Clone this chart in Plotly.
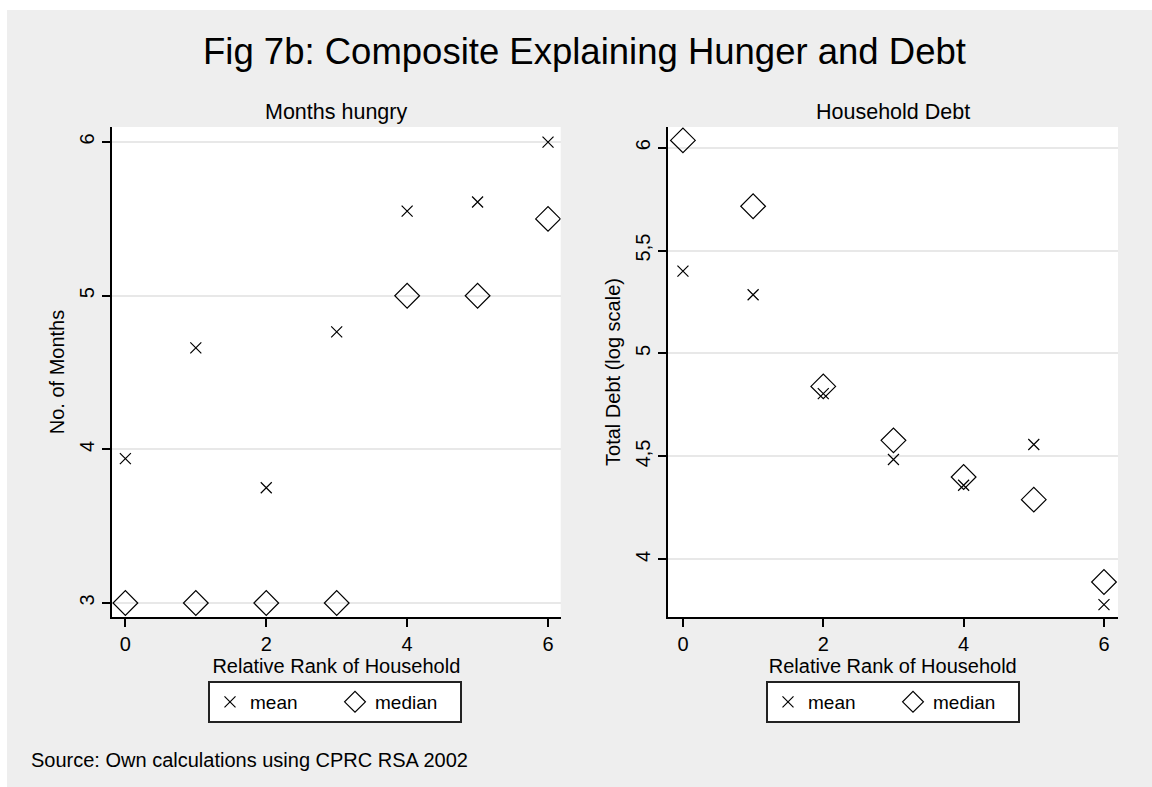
import plotly.graph_objects as go

# Relative rank of household (x values shared by both panels)
rank = [0, 1, 2, 3, 4, 5, 6]

# Months hungry
hunger_mean = [3.94, 4.66, 3.75, 4.765, 5.55, 5.61, 6.0]
hunger_median = [3, 3, 3, 3, 5, 5, 5.5]

# Household debt (log scale)
debt_mean = [5.40, 5.285, 4.805, 4.485, 4.36, 4.558, 3.78]
debt_median = [6.035, 5.715, 4.84, 4.578, 4.40, 4.29, 3.89]

x_ticks = [0, 2, 4, 6]
hunger_ticks = [3, 4, 5, 6]
debt_ticks = [4, 4.5, 5, 5.5, 6]
debt_ticktext = ["4", "4,5", "5", "5,5", "6"]

FONT = "Liberation Sans, Arial, sans-serif"
BG = "#EEEEEE"

W, H = 1152, 787
ML, MR, MT, MB = 112, 34, 127, 170
PW, PH = W - ML - MR, H - MT - MB


def px_x(px):
    return (px - ML) / PW


def px_y(py):
    return (H - MB - py) / PH


fig = go.Figure()

mean_marker = dict(symbol="x-thin-open", size=11, color="black",
                   line=dict(color="black", width=1.2))
median_marker = dict(symbol="diamond-open", size=19, color="black",
                     line=dict(color="black", width=1.2))

fig.add_trace(go.Scatter(x=rank, y=hunger_mean, mode="markers", name="mean",
                         marker=mean_marker, xaxis="x", yaxis="y",
                         legend="legend"))
fig.add_trace(go.Scatter(x=rank, y=hunger_median, mode="markers", name="median",
                         marker=median_marker, xaxis="x", yaxis="y",
                         legend="legend"))
fig.add_trace(go.Scatter(x=rank, y=debt_mean, mode="markers", name="mean",
                         marker=mean_marker, xaxis="x2", yaxis="y2",
                         legend="legend2"))
fig.add_trace(go.Scatter(x=rank, y=debt_median, mode="markers", name="median",
                         marker=median_marker, xaxis="x2", yaxis="y2",
                         legend="legend2"))

axis_common = dict(
    showline=True, linecolor="black", linewidth=2,
    ticks="outside", ticklen=8, tickwidth=1.5, tickcolor="black",
    tickfont=dict(family=FONT, size=20, color="black"),
    zeroline=False, mirror=False,
)

xaxis_common = dict(axis_common, showgrid=False, tickvals=x_ticks,
                    title=dict(text="Relative Rank of Household", standoff=0,
                               font=dict(family=FONT, size=20, color="black")))

yaxis_common = dict(axis_common, showgrid=True, gridcolor="#E8E8E8",
                    gridwidth=2, tickangle=-90)

left_dom = [0, px_x(560.7)]
right_dom = [px_x(667.5), 1]

legend_common = dict(
    orientation="h", bgcolor="white", bordercolor="#222222", borderwidth=2,
    font=dict(family=FONT, size=19, color="black"),
    xanchor="center", yanchor="top", y=px_y(681), entrywidth=80,
    itemsizing="trace",
)

fig.update_layout(
    width=W, height=H,
    margin=dict(l=ML, r=MR, t=MT, b=MB),
    paper_bgcolor=BG, plot_bgcolor="white",
    font=dict(family=FONT, color="black"),
    xaxis=dict(xaxis_common, domain=left_dom, range=[-0.19, 6.18], anchor="y"),
    yaxis=dict(yaxis_common, domain=[0, 1], range=[2.909, 6.098],
               tickvals=hunger_ticks, anchor="x",
               title=dict(text="No. of Months", standoff=6,
                          font=dict(family=FONT, size=20, color="black"))),
    xaxis2=dict(xaxis_common, domain=right_dom, range=[-0.22, 6.2], anchor="y2"),
    yaxis2=dict(yaxis_common, domain=[0, 1], range=[3.72, 6.1],
                tickvals=debt_ticks, ticktext=debt_ticktext, anchor="x2",
                title=dict(text="Total Debt (log scale)", standoff=6,
                           font=dict(family=FONT, size=20, color="black"))),
    legend=dict(legend_common, x=px_x(335)),
    legend2=dict(legend_common, x=px_x(893)),
    showlegend=True,
)

annotations = [
    dict(text="Fig 7b: Composite Explaining Hunger and Debt",
         x=px_x(584), y=px_y(52), font=dict(family=FONT, size=36.5),
         xanchor="center", yanchor="middle"),
    dict(text="Months hungry", x=px_x(336), y=px_y(112),
         font=dict(family=FONT, size=21.5), xanchor="center", yanchor="middle"),
    dict(text="Household Debt", x=px_x(893), y=px_y(112),
         font=dict(family=FONT, size=21.5), xanchor="center", yanchor="middle"),
    dict(text="Source: Own calculations using CPRC RSA 2002",
         x=px_x(29), y=px_y(760), font=dict(family=FONT, size=20),
         xanchor="left", yanchor="middle"),
]
for a in annotations:
    a.update(xref="paper", yref="paper", showarrow=False)
fig.update_layout(annotations=annotations)

# white page margin above and to the left of the grey panel
fig.add_shape(type="rect", xref="paper", yref="paper",
              x0=px_x(-5), x1=px_x(W + 5), y0=px_y(10), y1=px_y(-5),
              fillcolor="white", line=dict(width=0), layer="below")
fig.add_shape(type="rect", xref="paper", yref="paper",
              x0=px_x(-5), x1=px_x(7), y0=px_y(H + 5), y1=px_y(-5),
              fillcolor="white", line=dict(width=0), layer="below")

fig.write_html("out.html")
